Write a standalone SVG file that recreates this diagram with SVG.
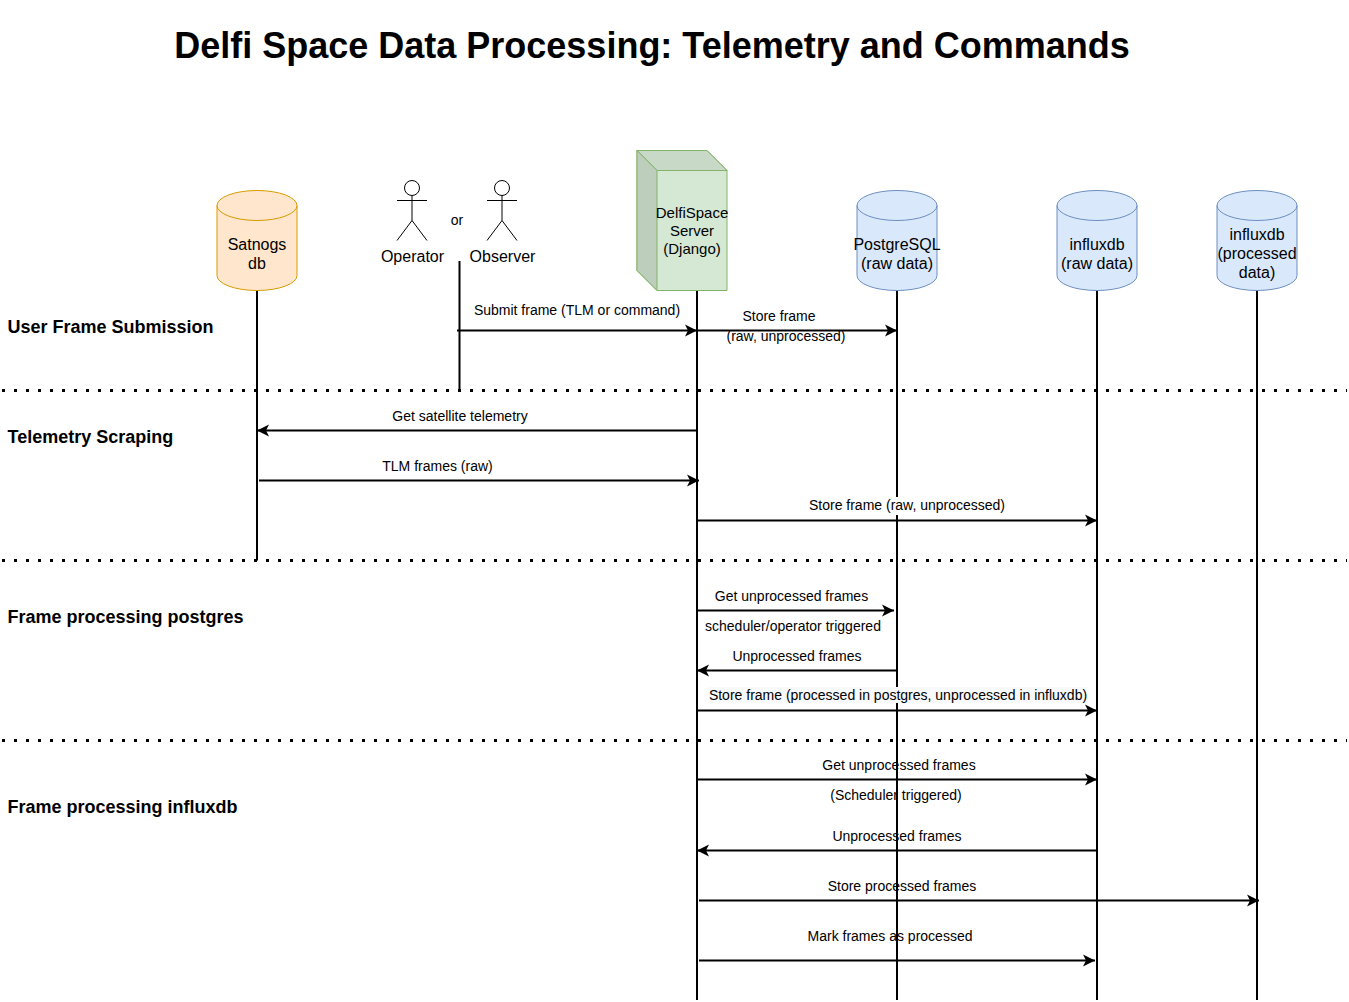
<svg xmlns="http://www.w3.org/2000/svg" width="1349" height="1002" viewBox="0 0 1349 1002">
<style>
text{font-family:"Liberation Sans",Arial,sans-serif;fill:#000;text-anchor:middle}
.t{font-size:14px}.n{font-size:16px}.s{font-size:15px}
.h{font-size:18px;font-weight:bold;text-anchor:start}
.l{stroke:#000;stroke-width:2;fill:none}
.d{stroke:#000;stroke-width:3;stroke-dasharray:3 9;fill:none}
.a{stroke:#000;stroke-width:2;fill:none;marker-end:url(#ah)}
.ac{stroke:#000;fill:#fff;stroke-width:1}
</style>
<defs>
<marker id="ah" markerUnits="userSpaceOnUse" markerWidth="14" markerHeight="14" refX="12" refY="6" orient="auto" overflow="visible"><path d="M0 0L12 6L0 12L3 6Z" fill="#000"/></marker>
</defs>
<rect width="1349" height="1002" fill="#fff"/>
<text x="652" y="58" style="font-size:36px;font-weight:bold">Delfi Space Data Processing: Telemetry and Commands</text>
<g id="lanes">
<path class="d" d="M2 390.500H1347M2 560.500H1347M2 740.500H1347"/>
<text class="h" x="7.500" y="333">User Frame Submission</text>
<text class="h" x="7.500" y="443">Telemetry Scraping</text>
<text class="h" x="7.500" y="623">Frame processing postgres</text>
<text class="h" x="7.500" y="813">Frame processing influxdb</text>
</g>
<g id="connectors">
<path class="l" d="M257 290V560.500M459.500 261V390.500M697 290V1000M897 290V1000M1097 290V1000M1257 290V1000"/>
<rect x="809" y="497" width="196" height="18" fill="#fff"/>
<rect x="709" y="687" width="378" height="16" fill="#f8f9fa"/>
<path class="a" d="M457 330.500H697"/>
<path class="a" d="M697 330.500H897"/>
<path class="a" d="M697 430.500H257"/>
<path class="a" d="M259 480.500H699"/>
<path class="a" d="M697 520.500H1097"/>
<path class="a" d="M697 610.500H894"/>
<path class="a" d="M897 670.500H697"/>
<path class="a" d="M697 710.500H1097"/>
<path class="a" d="M697 779.500H1097"/>
<path class="a" d="M1097 850.500H697"/>
<path class="a" d="M699 900.500H1259"/>
<path class="a" d="M699 960.500H1095"/>
</g>
<g id="labels">
<text class="t" x="577" y="315">Submit frame (TLM or command)</text>
<text class="t" x="779" y="321">Store frame</text>
<text class="t" x="786" y="341">(raw, unprocessed)</text>
<text class="t" x="460" y="421">Get satellite telemetry</text>
<text class="t" x="437.500" y="471">TLM frames (raw)</text>
<text class="t" x="907" y="510">Store frame (raw, unprocessed)</text>
<text class="t" x="791.500" y="601">Get unprocessed frames</text>
<text class="t" x="793" y="631">scheduler/operator triggered</text>
<text class="t" x="797" y="661">Unprocessed frames</text>
<text class="t" x="898" y="700">Store frame (processed in postgres, unprocessed in influxdb)</text>
<text class="t" x="899" y="770">Get unprocessed frames</text>
<text class="t" x="896" y="800">(Scheduler triggered)</text>
<text class="t" x="897" y="841">Unprocessed frames</text>
<text class="t" x="902" y="891">Store processed frames</text>
<text class="t" x="890" y="941">Mark frames as processed</text>
</g>
<g id="satnogs">
<path d="M217 205.500A40 15 0 0 1 297 205.500V275.500A40 15 0 0 1 217 275.500Z" fill="#ffe6cc" stroke="#d79b00"/>
<path d="M217 205.500A40 15 0 0 0 297 205.500" fill="none" stroke="#d79b00"/>
<text class="n" x="257" y="249.500">Satnogs</text><text class="n" x="257" y="269">db</text>
</g>
<g id="operator">
<circle class="ac" cx="412" cy="188" r="7.500"/>
<path class="ac" fill="none" d="M412 195.500V220.500M397 200.500H427M397 240.500L412 220.500L427 240.500"/>
<text class="n" x="412.500" y="262">Operator</text>
</g>
<text class="t" x="457" y="225">or</text>
<g id="observer">
<circle class="ac" cx="502" cy="188" r="7.500"/>
<path class="ac" fill="none" d="M502 195.500V220.500M487 200.500H517M487 240.500L502 220.500L517 240.500"/>
<text class="n" x="502.500" y="262">Observer</text>
</g>
<g id="server">
<path d="M637 150.500H707L727 170.500V290.500H657L637 270.500Z" fill="#d5e8d4" stroke="#82b366"/>
<path d="M637 150.500H707L727 170.500H657Z" fill="#c9d9c8" stroke="#82b366"/>
<path d="M637 150.500L657 170.500V290.500L637 270.500Z" fill="#bdcebc" stroke="#82b366"/>
<text class="s" x="692" y="218">DelfiSpace</text><text class="s" x="692" y="236">Server</text><text class="s" x="692" y="254">(Django)</text>
</g>
<g id="postgres">
<path d="M857 205.500A40 15 0 0 1 937 205.500V275.500A40 15 0 0 1 857 275.500Z" fill="#dae8fc" stroke="#6c8ebf"/>
<path d="M857 205.500A40 15 0 0 0 937 205.500" fill="none" stroke="#6c8ebf"/>
<text class="n" x="897" y="249.500">PostgreSQL</text><text class="n" x="897" y="269">(raw data)</text>
</g>
<g id="influx-raw">
<path d="M1057 205.500A40 15 0 0 1 1137 205.500V275.500A40 15 0 0 1 1057 275.500Z" fill="#dae8fc" stroke="#6c8ebf"/>
<path d="M1057 205.500A40 15 0 0 0 1137 205.500" fill="none" stroke="#6c8ebf"/>
<text class="n" x="1097" y="249.500">influxdb</text><text class="n" x="1097" y="269">(raw data)</text>
</g>
<g id="influx-processed">
<path d="M1217 205.500A40 15 0 0 1 1297 205.500V275.500A40 15 0 0 1 1217 275.500Z" fill="#dae8fc" stroke="#6c8ebf"/>
<path d="M1217 205.500A40 15 0 0 0 1297 205.500" fill="none" stroke="#6c8ebf"/>
<text class="n" x="1257" y="240">influxdb</text><text class="n" x="1257" y="259">(processed</text><text class="n" x="1257" y="278">data)</text>
</g>
</svg>
